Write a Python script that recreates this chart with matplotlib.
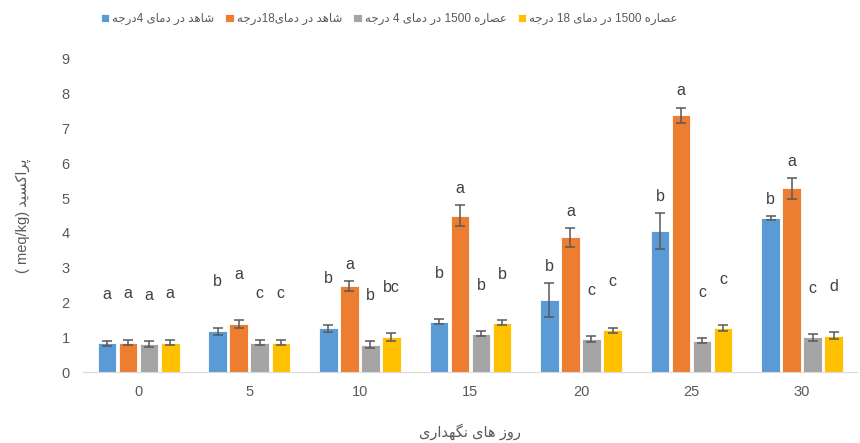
import re
import numpy as np
import matplotlib
matplotlib.use('Agg')
from matplotlib import pyplot as plt

plt.rcParams['font.family'] = ['Liberation Sans', 'DejaVu Sans']

days = ['0', '5', '10', '15', '20', '25', '30']
series_names = ['شاهد در دمای 4درجه', 'شاهد در دمای18درجه',
                'عصاره 1500 در دمای 4 درجه', 'عصاره 1500 در دمای 18 درجه']
control_4 = [0.83, 1.18, 1.26, 1.45, 2.07, 4.05, 4.43]
control_18 = [0.85, 1.38, 2.47, 4.50, 3.87, 7.38, 5.28]
extract_4 = [0.80, 0.85, 0.78, 1.10, 0.95, 0.90, 1.00]
extract_18 = [0.85, 0.85, 1.00, 1.42, 1.20, 1.27, 1.05]
err_control_4 = [0.07, 0.10, 0.10, 0.07, 0.50, 0.52, 0.06]
err_control_18 = [0.08, 0.12, 0.15, 0.30, 0.28, 0.22, 0.30]
err_extract_4 = [0.08, 0.08, 0.10, 0.07, 0.08, 0.07, 0.10]
err_extract_18 = [0.08, 0.08, 0.12, 0.08, 0.08, 0.08, 0.10]
letters_control_4 = ['a', 'b', 'b', 'b', 'b', 'b', 'b']
letters_control_18 = ['a', 'a', 'a', 'a', 'a', 'a', 'a']
letters_extract_4 = ['a', 'c', 'b', 'b', 'c', 'c', 'c']
letters_extract_18 = ['a', 'c', 'bc', 'b', 'c', 'c', 'd']

# minimal Persian shaping (isolated, final, initial, medial)
FORMS = {
    'ا': ('\uFE8D', '\uFE8E', None, None),
    'د': ('\uFEA9', '\uFEAA', None, None),
    'ر': ('\uFEAD', '\uFEAE', None, None),
    'ز': ('\uFEAF', '\uFEB0', None, None),
    'و': ('\uFEED', '\uFEEE', None, None),
    'ش': ('\uFEB5', '\uFEB6', '\uFEB7', '\uFEB8'),
    'س': ('\uFEB1', '\uFEB2', '\uFEB3', '\uFEB4'),
    'ص': ('\uFEB9', '\uFEBA', '\uFEBB', '\uFEBC'),
    'ع': ('\uFEC9', '\uFECA', '\uFECB', '\uFECC'),
    'ه': ('\uFEE9', '\uFEEA', '\uFEEB', '\uFEEC'),
    'م': ('\uFEE1', '\uFEE2', '\uFEE3', '\uFEE4'),
    'ن': ('\uFEE5', '\uFEE6', '\uFEE7', '\uFEE8'),
    'ج': ('\uFE9D', '\uFE9E', '\uFE9F', '\uFEA0'),
    'ی': ('\uFBFC', '\uFBFD', '\uFBFE', '\uFBFF'),
    'پ': ('\uFB56', '\uFB57', '\uFB58', '\uFB59'),
    'ک': ('\uFB8E', '\uFB8F', '\uFB90', '\uFB91'),
    'گ': ('\uFB92', '\uFB93', '\uFB94', '\uFB95'),
}


def fa(s):
    out = []
    for i, c in enumerate(s):
        if c not in FORMS:
            out.append(c)
            continue
        prev = i > 0 and s[i - 1] in FORMS and FORMS[s[i - 1]][2] is not None
        nxt = i + 1 < len(s) and s[i + 1] in FORMS and FORMS[c][2] is not None
        if prev and nxt:
            out.append(FORMS[c][3])
        elif prev:
            out.append(FORMS[c][1])
        elif nxt:
            out.append(FORMS[c][2])
        else:
            out.append(FORMS[c][0])
    shaped = ''.join(out)
    runs = re.findall(r'\d+|\D+', shaped)
    return ''.join(r if r.isdigit() else r[::-1] for r in reversed(runs))


colors = ['#5B9BD5', '#ED7D31', '#A5A5A5', '#FFC000']
means = [control_4, control_18, extract_4, extract_18]
errs = [err_control_4, err_control_18, err_extract_4, err_extract_18]
letters = [letters_control_4, letters_control_18, letters_extract_4, letters_extract_18]

fig = plt.figure(figsize=(8.6, 4.43), dpi=100)
ax = fig.add_axes([0.097, 0.16, 0.9, 0.707])

x = np.arange(len(days))
width = 0.168
step = 0.19
for k in range(4):
    pos = x + (k - 1.5) * step
    ax.bar(pos, means[k], width, color=colors[k], edgecolor='white', linewidth=0.6,
           label=fa(series_names[k]), zorder=2)
    ax.errorbar(pos, means[k], yerr=errs[k], fmt='none', ecolor='#595959',
                elinewidth=1.1, capsize=3.5, capthick=1.1, zorder=3)
    for p, m, e, t in zip(pos, means[k], errs[k], letters[k]):
        off = 12 if m >= 2 else 33
        ax.annotate(t, (p, m + e), xytext=(0, off), textcoords='offset points',
                    ha='center', va='center', fontsize=11.5, color='#404040')

ax.set_xlim(-0.5, len(days) - 0.5)
ax.set_ylim(0, 9)
ax.set_yticks(range(10))
ax.set_xticks(x)
ax.set_xticklabels(days)
for s in ['top', 'right', 'left']:
    ax.spines[s].set_visible(False)
ax.spines['bottom'].set_color('#D9D9D9')
ax.tick_params(axis='both', colors='#595959', labelsize=10.5, length=0, pad=10)
ax.tick_params(axis='x', pad=9)

ax.set_ylabel('( meq/kg) ' + fa('پراکسید'), fontsize=10.5, color='#595959', labelpad=22)
ax.set_xlabel(fa('روز های نگهداری'), fontsize=10.5, color='#595959', labelpad=18)

fig.legend(loc='upper left', bbox_to_anchor=(0.105, 0.995), ncol=4, frameon=False,
           fontsize=8.5, handlelength=0.7, handleheight=0.7, handletextpad=0.25,
           columnspacing=0.95, labelcolor='#595959')

fig.savefig('out.png', dpi=100)
